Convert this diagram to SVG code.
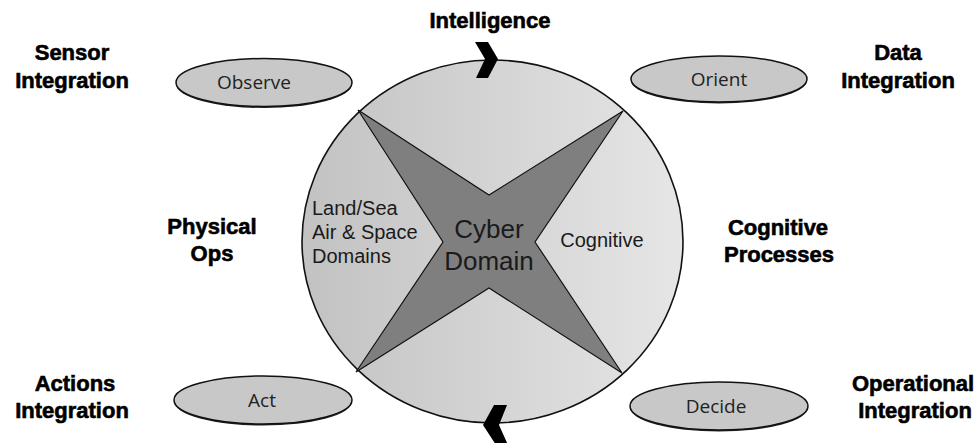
<svg xmlns="http://www.w3.org/2000/svg" width="979" height="443" viewBox="0 0 979 443">
<defs>
<linearGradient id="disc" x1="0" y1="0" x2="1" y2="0">
<stop offset="0" stop-color="#c2c2c2"/>
<stop offset="1" stop-color="#e6e6e6"/>
</linearGradient>
<style>
.lbl{font-family:"Liberation Sans",Arial,sans-serif;font-weight:bold;font-size:22px;fill:#000;stroke:#000;stroke-width:0.6;text-anchor:middle}
.ell{fill:#c8c8c8;stroke:#111;stroke-width:1.5}
.sh{fill:#222}
.etx{font-family:"Open Sans","Noto Sans",sans-serif;font-size:19px;fill:#222;text-anchor:middle}
.in{font-family:"Liberation Sans",Arial,sans-serif;fill:#1a1a1a}
.chev{fill:#000}
</style>
</defs>
<rect width="979" height="443" fill="#fff"/>
<g id="domain-circle">
<ellipse cx="492.5" cy="241.5" rx="190.5" ry="181.5" fill="url(#disc)" stroke="#111" stroke-width="1.6"/>
<polygon points="358,110 489,195 623,111 535,242 622,373 489,288 356,372 443,242" fill="#7f7f7f" stroke="#111" stroke-width="1.2" stroke-linejoin="miter"/>
</g>
<g id="physical-domains">
<text class="in" font-size="20" x="312" y="215">Land/Sea</text>
<text class="in" font-size="20" x="312" y="239">Air &amp; Space</text>
<text class="in" font-size="20" x="312" y="263">Domains</text>
</g>
<g id="cyber-domain">
<text class="in" font-size="26" x="489" y="238" text-anchor="middle">Cyber</text>
<text class="in" font-size="26" x="489" y="270" text-anchor="middle">Domain</text>
</g>
<g id="cognitive">
<text class="in" font-size="20" x="602" y="247" text-anchor="middle">Cognitive</text>
</g>
<g id="observe">
<ellipse class="sh" cx="264" cy="84" rx="88" ry="24"/>
<ellipse class="ell" cx="264" cy="82.5" rx="88" ry="24"/>
<text class="etx" x="254" y="89">Observe</text>
</g>
<g id="orient">
<ellipse class="sh" cx="719" cy="80.5" rx="88" ry="23"/>
<ellipse class="ell" cx="719" cy="79" rx="88" ry="23"/>
<text class="etx" x="719" y="86">Orient</text>
</g>
<g id="decide">
<ellipse class="sh" cx="719" cy="407.5" rx="89" ry="24"/>
<ellipse class="ell" cx="719" cy="406" rx="89" ry="24"/>
<text class="etx" x="716" y="413">Decide</text>
</g>
<g id="act">
<ellipse class="sh" cx="263" cy="401.5" rx="89" ry="24"/>
<ellipse class="ell" cx="263" cy="400" rx="89" ry="24"/>
<text class="etx" x="262" y="407">Act</text>
</g>
<g id="intelligence">
<text class="lbl" x="490" y="28">Intelligence</text>
</g>
<g id="sensor-integration">
<text class="lbl" x="72" y="60">Sensor</text>
<text class="lbl" x="72" y="88">Integration</text>
</g>
<g id="data-integration">
<text class="lbl" x="898" y="60">Data</text>
<text class="lbl" x="898" y="88">Integration</text>
</g>
<g id="physical-ops">
<text class="lbl" x="212" y="234">Physical</text>
<text class="lbl" x="212" y="261">Ops</text>
</g>
<g id="cognitive-processes">
<text class="lbl" x="778" y="235">Cognitive</text>
<text class="lbl" x="779" y="262">Processes</text>
</g>
<g id="actions-integration">
<text class="lbl" x="75" y="391">Actions</text>
<text class="lbl" x="72" y="418">Integration</text>
</g>
<g id="operational-integration">
<text class="lbl" x="913" y="391">Operational</text>
<text class="lbl" x="915" y="418">Integration</text>
</g>
<g id="connectors">
<polygon class="chev" points="475,42 488,42 498,59 488,78 476,78 485,59"/>
<polygon class="chev" points="494,405 507,405 499,425 508,445 496,445 483,425"/>
</g>
</svg>
